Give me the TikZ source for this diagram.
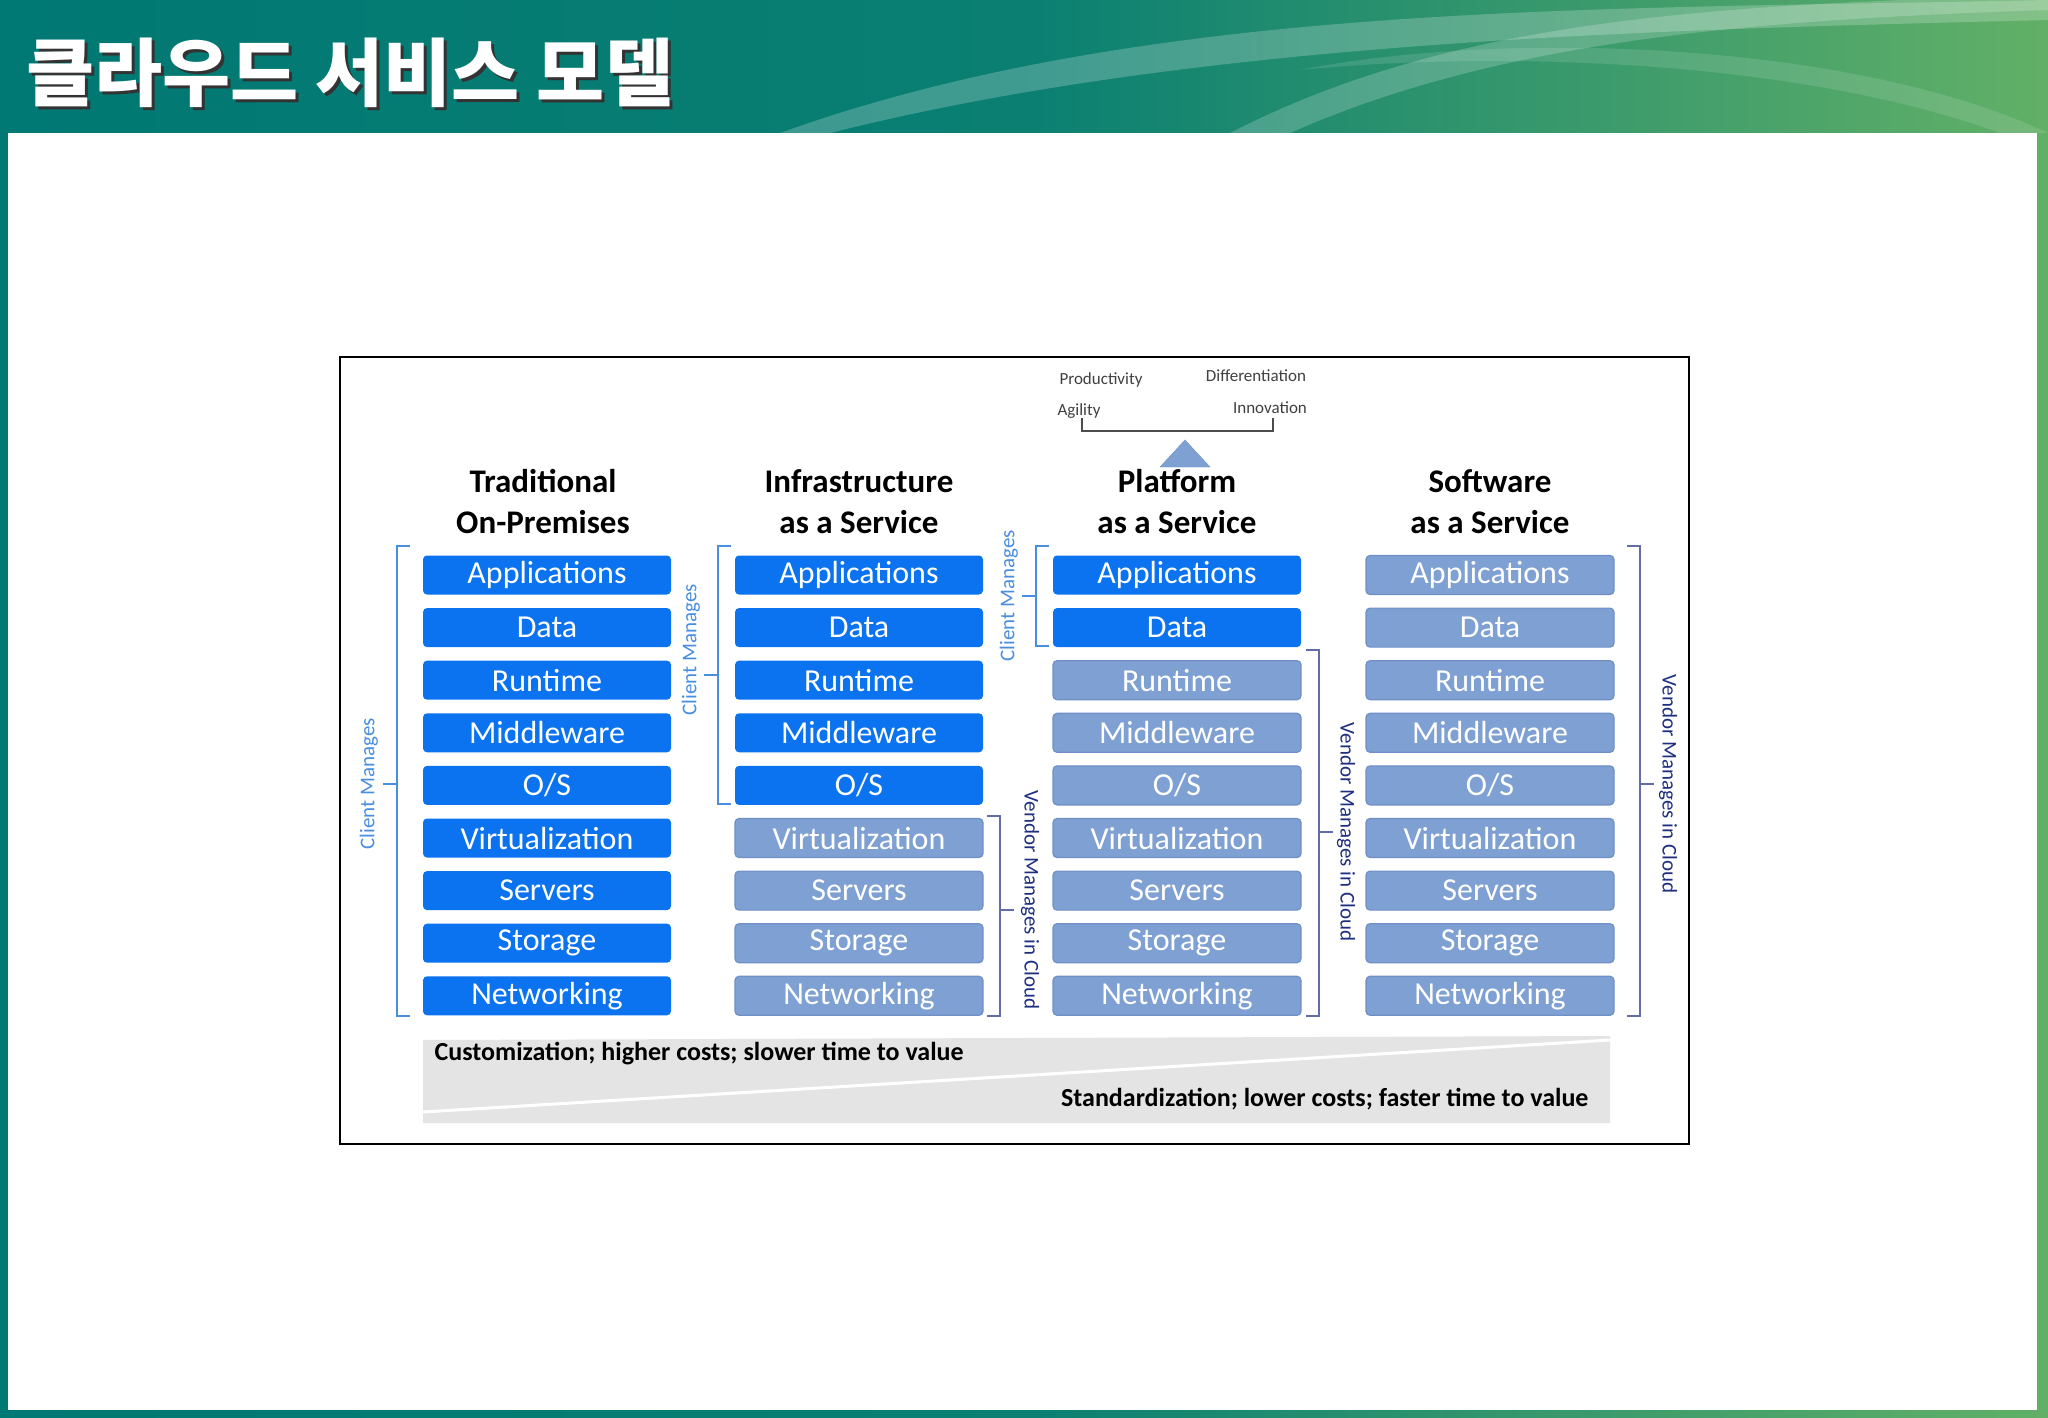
\documentclass[tikz,border=0pt]{standalone}
\usepackage{fontspec}
\setmainfont{Carlito}
\newfontfamily\kr{Noto Sans CJK KR}
\definecolor{hdA}{HTML}{007873}
\definecolor{hdB}{HTML}{0A7F72}
\definecolor{hdC}{HTML}{62B067}
\definecolor{bBlue}{HTML}{0B72F0}
\definecolor{bGrey}{HTML}{7FA0D2}
\definecolor{bGreyD}{HTML}{6F8FC6}
\definecolor{cLab}{HTML}{4A8EE0}
\definecolor{vLab}{HTML}{1F2F80}
\definecolor{band}{HTML}{E4E4E4}
\tikzset{
 x=1pt,y=-1pt,
 laybox/.style={rounded corners=4pt,minimum width=248pt,minimum height=39pt,inner sep=0pt,text=white,font=\fontsize{32}{32}\selectfont},
 cbox/.style={laybox,fill=bBlue},
 vbox/.style={laybox,fill=bGrey,draw=bGreyD,line width=1.2pt},
 headtxt/.style={align=center,font=\bfseries\fontsize{33}{41}\selectfont},
 brk/.style={draw=cLab,line width=1.6pt},
 brkv/.style={draw=vLab!70,line width=1.6pt},
 clab/.style={text=cLab,font=\fontsize{21}{21}\selectfont},
 vlab/.style={text=vLab,font=\fontsize{21}{21}\selectfont},
 smtxt/.style={text=black!75,font=\fontsize{17}{17}\selectfont},
 bttxt/.style={font=\bfseries\fontsize{26}{26}\selectfont}
}
\begin{document}
\begin{tikzpicture}
\useasboundingbox (0,0) rectangle (2048,1418);
\shade[left color=hdA,right color=hdC,middle color=hdB] (0,0) rectangle (2048,1418);
\fill[white] (8,133) rectangle (2037,1410);
\begin{scope}
\clip (0,0) rectangle (2048,133);
\fill[white,opacity=0.22] (780,133) .. controls (1150,0) and (1600,10) .. (2048,0) -- (2048,20) .. controls (1650,30) and (1200,40) .. (830,133) -- cycle;
\fill[white,opacity=0.2] (1230,133) .. controls (1450,20) and (1700,5) .. (2048,-5) -- (2048,10) .. controls (1750,20) and (1500,40) .. (1290,133) -- cycle;
\fill[white,opacity=0.12] (1300,70) .. controls (1500,30) and (1850,40) .. (2048,133) -- (2000,133) .. controls (1800,60) and (1500,50) .. (1300,70) -- cycle;
\end{scope}
\node[anchor=base west,text=black!80,font=\kr\bfseries\fontsize{74}{74}\selectfont] at (26,104) {클라우드 서비스 모델};
\node[anchor=base west,text=white,font=\kr\bfseries\fontsize{74}{74}\selectfont] (title) at (23,101) {클라우드 서비스 모델};
\draw[line width=1.6pt] (340,357) rectangle (1689,1144);
\node[headtxt] (h1) at (543,502) {Traditional\\On-Premises};
\node[headtxt] (h2) at (859,502) {Infrastructure\\as a Service};
\node[headtxt] (h3) at (1177,502) {Platform\\as a Service};
\node[headtxt] (h4) at (1490,502) {Software\\as a Service};
\def\layers{Applications,Data,Runtime,Middleware,O/S,Virtualization,Servers,Storage,Networking}
\foreach \t [count=\i from 0] in \layers {
  \pgfmathsetmacro{\yy}{575+52.6*\i}
  \node[cbox] (a\i) at (547,\yy) {\t};
  \ifnum\i<5 \node[cbox] (b\i) at (859,\yy) {\t}; \else \node[vbox] (b\i) at (859,\yy) {\t}; \fi
  \ifnum\i<2 \node[cbox] (c\i) at (1177,\yy) {\t}; \else \node[vbox] (c\i) at (1177,\yy) {\t}; \fi
  \node[vbox] (d\i) at (1490,\yy) {\t};
}
\draw[brk] (410,546) -- (397,546) -- (397,1016) -- (410,1016);
\draw[brk] (397,784) -- (383,784);
\node[clab,rotate=90] (l1) at (369,784) {Client Manages};
\draw[brk] (731,546) -- (718,546) -- (718,804) -- (731,804);
\draw[brk] (718,675) -- (704,675);
\node[clab,rotate=90] (l2) at (691,650) {Client Manages};
\draw[brkv] (987,816) -- (1000,816) -- (1000,1016) -- (987,1016);
\draw[brkv] (1000,910) -- (1014,910);
\node[vlab,rotate=-90] (l3) at (1030,900) {Vendor Manages in Cloud};
\draw[brk] (1049,546) -- (1036,546) -- (1036,646) -- (1049,646);
\draw[brk] (1036,596) -- (1022,596);
\node[clab,rotate=90] (l4) at (1009,596) {Client Manages};
\draw[brkv] (1306,650) -- (1319,650) -- (1319,1016) -- (1306,1016);
\draw[brkv] (1319,832) -- (1333,832);
\node[vlab,rotate=-90] (l5) at (1346,832) {Vendor Manages in Cloud};
\draw[brkv] (1627,546) -- (1640,546) -- (1640,1016) -- (1627,1016);
\draw[brkv] (1640,784) -- (1654,784);
\node[vlab,rotate=-90] (l6) at (1668,784) {Vendor Manages in Cloud};
\draw[black!70,line width=1.2pt] (1082,418) -- (1082,431) -- (1273,431) -- (1273,418);
\fill[bGrey,draw=bGreyD] (1185,440) -- (1210,467) -- (1160,467) -- cycle;
\node[smtxt] (p1) at (1101,380) {Productivity};
\node[smtxt] (p2) at (1256,376) {Differentiation};
\node[smtxt] (p3) at (1079,411) {Agility};
\node[smtxt] (p4) at (1270,408) {Innovation};
\fill[band] (423,1040) -- (1610,1036) -- (1610,1123) -- (423,1123) -- cycle;
\draw[white,line width=3pt] (423,1112) -- (1610,1040);
\node[bttxt,anchor=west] (t1) at (431,1054) {Customization; higher costs; slower time to value};
\node[bttxt,anchor=east] (t2) at (1592,1099) {Standardization; lower costs; faster time to value};
\end{tikzpicture}
\end{document}
